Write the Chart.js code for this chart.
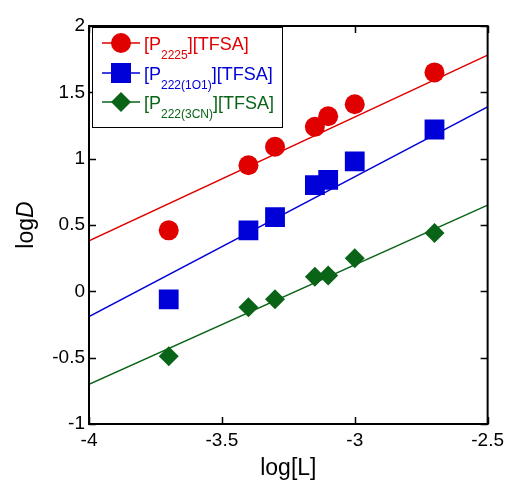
<!DOCTYPE html>
<html>
<head>
<meta charset="utf-8">
<script src="https://cdn.jsdelivr.net/npm/chart.js@4/dist/chart.umd.min.js"></script>
<style>
html,body{margin:0;padding:0;background:#fff;}
#wrap{width:509px;height:486px;position:relative;}
</style>
</head>
<body>
<div id="wrap"><canvas id="c" width="509" height="486"></canvas></div>
<script>
const logL = [-3.7, -3.4, -3.3, -3.15, -3.1, -3.0, -2.7];
const logD_P2225 = [0.46, 0.95, 1.09, 1.24, 1.32, 1.41, 1.65];
const logD_P222_1O1 = [-0.06, 0.46, 0.56, 0.80, 0.84, 0.98, 1.22];
const logD_P222_3CN = [-0.49, -0.12, -0.06, 0.11, 0.12, 0.25, 0.44];
const fitX = [-4, -2.5];
const fit_P2225 = [0.38, 1.78];
const fit_P222_1O1 = [-0.19, 1.39];
const fit_P222_3CN = [-0.70, 0.65];
const xTicks = [-4, -3.5, -3, -2.5];
const yTicks = [-1, -0.5, 0, 0.5, 1, 1.5, 2];

const RED = '#e00000', BLUE = '#0000d8', GREEN = '#0a6418';
const FONT = '"Liberation Sans", Arial, sans-serif';

const pts = (xs, ys) => xs.map((x, i) => ({x, y: ys[i]}));

const legendItems = [
  {color: RED, style: 'circle', base: '[P', sub: '2225', tail: '][TFSA]'},
  {color: BLUE, style: 'rect', base: '[P', sub: '222(1O1)', tail: '][TFSA]'},
  {color: GREEN, style: 'rectRot', base: '[P', sub: '222(3CN)', tail: '][TFSA]'}
];

const framePlugin = {
  id: 'frame',
  afterDatasetsDraw(chart) {
    const {ctx, chartArea: a, scales: {x, y}} = chart;
    ctx.save();
    ctx.strokeStyle = '#000';
    ctx.lineWidth = 2;
    ctx.beginPath();
    ctx.rect(a.left, a.top, a.right - a.left, a.bottom - a.top);
    ctx.stroke();
    ctx.lineWidth = 1.5;
    const tl = 7;
    xTicks.forEach(v => {
      const px = Math.round(x.getPixelForValue(v)) + 0.5;
      ctx.beginPath();
      ctx.moveTo(px, a.bottom); ctx.lineTo(px, a.bottom - tl);
      ctx.moveTo(px, a.top); ctx.lineTo(px, a.top + tl);
      ctx.stroke();
    });
    yTicks.forEach(v => {
      const py = Math.round(y.getPixelForValue(v)) + 0.5;
      ctx.beginPath();
      ctx.moveTo(a.left, py); ctx.lineTo(a.left + tl, py);
      ctx.moveTo(a.right, py); ctx.lineTo(a.right - tl, py);
      ctx.stroke();
    });
    // legend box
    const bx = a.left + 3, by = a.top + 1, bw = 190, bh = 100;
    ctx.fillStyle = '#fff';
    ctx.fillRect(bx, by, bw, bh);
    ctx.strokeStyle = '#000';
    ctx.lineWidth = 1;
    ctx.strokeRect(bx + 0.5, by + 0.5, bw, bh);
    const rows = [by + 16, by + 46, by + 75];
    legendItems.forEach((it, i) => {
      const ry = rows[i];
      ctx.strokeStyle = it.color;
      ctx.fillStyle = it.color;
      ctx.lineWidth = 1.5;
      ctx.beginPath();
      ctx.moveTo(bx + 10, ry); ctx.lineTo(bx + 48, ry);
      ctx.stroke();
      const cx = bx + 29;
      ctx.beginPath();
      if (it.style === 'circle') {
        ctx.arc(cx, ry, 10, 0, Math.PI * 2);
      } else if (it.style === 'rect') {
        ctx.rect(cx - 10, ry - 10, 20, 20);
      } else {
        ctx.moveTo(cx, ry - 10); ctx.lineTo(cx + 10, ry); ctx.lineTo(cx, ry + 10); ctx.lineTo(cx - 10, ry);
        ctx.closePath();
      }
      ctx.fill();
      ctx.textBaseline = 'alphabetic';
      ctx.textAlign = 'left';
      let tx = bx + 52;
      const base = ry + 7;
      ctx.font = '18px ' + FONT;
      ctx.fillText(it.base, tx, base);
      tx += ctx.measureText(it.base).width;
      ctx.font = '12px ' + FONT;
      ctx.fillText(it.sub, tx, base + 9);
      tx += ctx.measureText(it.sub).width;
      ctx.font = '18px ' + FONT;
      ctx.fillText(it.tail, tx, base);
    });
    // y title
    ctx.fillStyle = '#000';
    ctx.save();
    ctx.translate(33, (a.top + a.bottom) / 2);
    ctx.rotate(-Math.PI / 2);
    ctx.textAlign = 'left';
    ctx.textBaseline = 'alphabetic';
    ctx.font = '23px ' + FONT;
    const w1 = ctx.measureText('log').width;
    ctx.font = 'italic 23px ' + FONT;
    const w2 = ctx.measureText('D').width;
    let sx = -(w1 + w2) / 2;
    ctx.font = '23px ' + FONT;
    ctx.fillText('log', sx, 0);
    ctx.font = 'italic 23px ' + FONT;
    ctx.fillText('D', sx + w1, 0);
    ctx.restore();
    ctx.restore();
  }
};

new Chart(document.getElementById('c'), {
  type: 'scatter',
  data: {
    datasets: [
      {type: 'line', data: pts(fitX, fit_P2225), borderColor: RED, borderWidth: 1.5, pointRadius: 0, fill: false},
      {type: 'line', data: pts(fitX, fit_P222_1O1), borderColor: BLUE, borderWidth: 1.5, pointRadius: 0, fill: false},
      {type: 'line', data: pts(fitX, fit_P222_3CN), borderColor: GREEN, borderWidth: 1.5, pointRadius: 0, fill: false},
      {data: pts(logL, logD_P2225), pointStyle: 'circle', pointRadius: 10, backgroundColor: RED, borderWidth: 0},
      {data: pts(logL, logD_P222_1O1), pointStyle: 'rect', pointRadius: 14, backgroundColor: BLUE, borderWidth: 0},
      {data: pts(logL, logD_P222_3CN), pointStyle: 'rectRot', pointRadius: 10, backgroundColor: GREEN, borderWidth: 0}
    ]
  },
  options: {
    responsive: false,
    animation: false,
    events: [],
    layout: {padding: {left: 0, right: 20, top: 26, bottom: 0}},
    plugins: {legend: {display: false}, tooltip: {enabled: false}},
    scales: {
      x: {
        type: 'linear', min: -4, max: -2.5,
        afterBuildTicks: s => { s.ticks = xTicks.map(v => ({value: v})); },
        afterFit: s => { s.height = 62; },
        grid: {display: false, drawTicks: false},
        border: {display: false},
        ticks: {color: '#000', font: {family: FONT, size: 19}, padding: 5, maxRotation: 0, autoSkip: false,
          callback: v => String(v)},
        title: {display: true, text: 'log[L]', color: '#000', font: {family: FONT, size: 23}, padding: {top: 0}}
      },
      y: {
        type: 'linear', min: -1, max: 2,
        afterBuildTicks: s => { s.ticks = yTicks.map(v => ({value: v})); },
        afterFit: s => { s.width = 89; },
        grid: {display: false, drawTicks: false},
        border: {display: false},
        ticks: {color: '#000', font: {family: FONT, size: 19}, padding: 4, autoSkip: false,
          callback: v => String(v)}
      }
    }
  },
  plugins: [framePlugin]
});
</script>
</body>
</html>
